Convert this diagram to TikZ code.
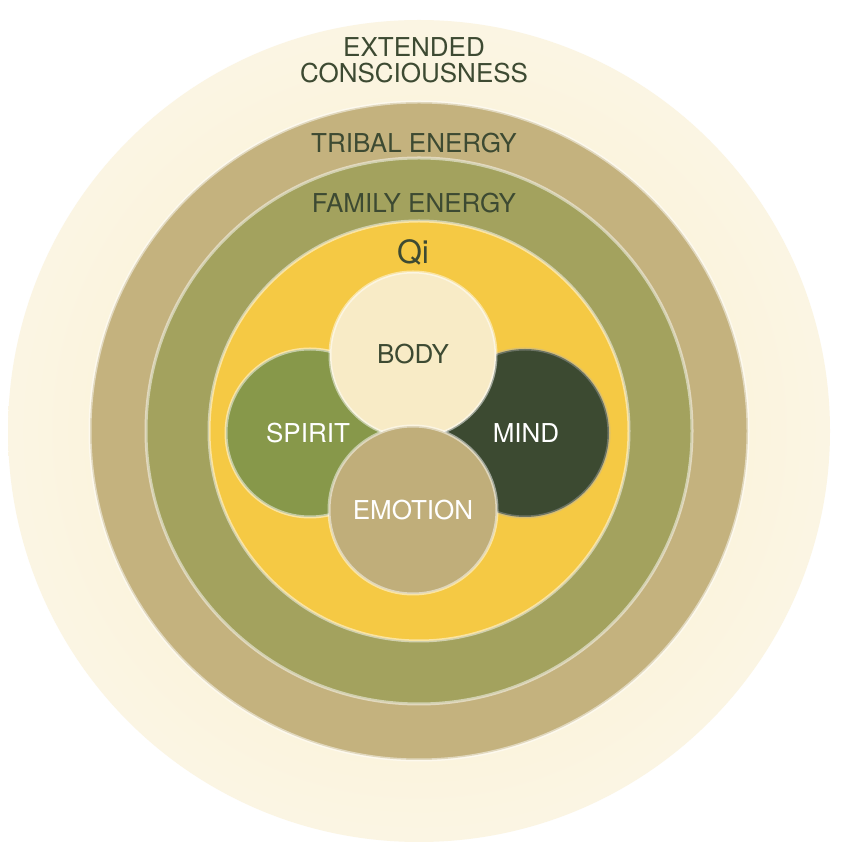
\documentclass[tikz,border=0pt]{standalone}
\usepackage{fontspec}
\setmainfont{TeX Gyre Heros}
\begin{document}
\begin{tikzpicture}[x=1pt,y=1pt]
\definecolor{outerc}{HTML}{F8ECC8}
\definecolor{tribc}{HTML}{C4B27E}
\definecolor{famc}{HTML}{A3A25E}
\definecolor{qic}{HTML}{F5C944}
\definecolor{bodyc}{HTML}{F8EBC6}
\definecolor{spc}{HTML}{87984A}
\definecolor{mindc}{HTML}{3C4A31}
\definecolor{emoc}{HTML}{C0AE7A}
\definecolor{txt}{HTML}{3D4A32}
\tikzset{ring/.style={draw=white,draw opacity=0.5,line width=3pt},
 lab/.style={text=txt,font=\fontsize{26}{28}\selectfont,align=center},
 wlab/.style={text=white,font=\fontsize{26}{28}\selectfont}}
\useasboundingbox (0,0) rectangle (846,851);
\fill[white] (0,0) rectangle (846,851);
\path[inner color=outerc,outer color=outerc!50!white] (419,420) circle (411);
\node[circle,minimum size=822,inner sep=0] (ext) at (419,420) {};
\fill[tribc,ring] (419,420) circle (329);
\fill[famc,ring] (419,420) circle (273);
\fill[qic,ring] (419,420) circle (210);
\fill[spc,ring] (310,418) circle (84);
\fill[mindc,draw=black!30,line width=3pt,draw opacity=0.4] (525,418) circle (84);
\fill[bodyc,ring] (413,496) circle (83);
\fill[emoc,ring] (413,341) circle (84);
\node[lab] (t1) at (414,791) {EXTENDED\\[-2pt]CONSCIOUSNESS};
\node[lab] (t2) at (414,708) {TRIBAL ENERGY};
\node[lab] (t3) at (414,648) {FAMILY ENERGY};
\node[lab,font=\fontsize{32}{34}\selectfont] (t4) at (413,599) {Qi};
\node[lab] (b) at (413,497) {BODY};
\node[wlab] (s) at (308,418) {SPIRIT};
\node[wlab] (m) at (526,418) {MIND};
\node[wlab] (e) at (413,341) {EMOTION};
\end{tikzpicture}
\end{document}
